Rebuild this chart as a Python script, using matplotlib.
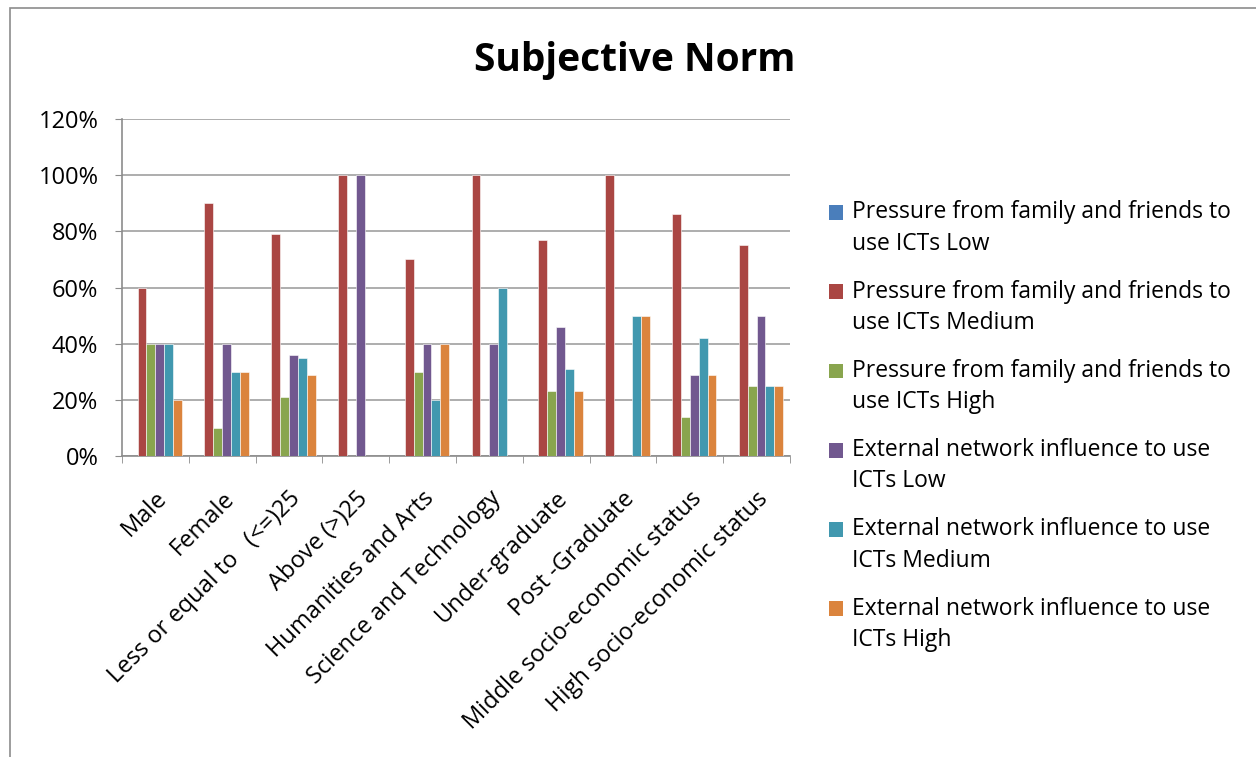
import numpy as np
import matplotlib
matplotlib.use('Agg')
import matplotlib.pyplot as plt
import matplotlib.transforms as mtransforms
from matplotlib.patches import Rectangle
from matplotlib.legend_handler import HandlerPatch

plt.rcParams['font.family'] = ['Open Sans', 'DejaVu Sans']

categories = ['Male', 'Female', 'Less or equal to   (<=)25', 'Above (>)25',
              'Humanities and Arts', 'Science and Technology', 'Under-graduate',
              'Post -Graduate', 'Middle socio-economic status', 'High socio-economic status']

series_names = ['Pressure from family and friends to\nuse ICTs Low',
                'Pressure from family and friends to\nuse ICTs Medium',
                'Pressure from family and friends to\nuse ICTs High',
                'External network influence to use\nICTs Low',
                'External network influence to use\nICTs Medium',
                'External network influence to use\nICTs High']

pff_low = [0, 0, 0, 0, 0, 0, 0, 0, 0, 0]
pff_medium = [60, 90, 79, 100, 70, 100, 77, 100, 86, 75]
pff_high = [40, 10, 21, 0, 30, 0, 23, 0, 14, 25]
ext_low = [40, 40, 36, 100, 40, 40, 46, 0, 29, 50]
ext_medium = [40, 30, 35, 0, 20, 60, 31, 50, 42, 25]
ext_high = [20, 30, 29, 0, 40, 0, 23, 50, 29, 25]

colors = ['#4A7EBB', '#AA4643', '#89A54E', '#71588F', '#4198AF', '#DB843D']


# legend square sits next to the first line of the label, like Excel does
class TopSquare(HandlerPatch):
    def create_artists(self, legend, orig_handle, xdescent, ydescent,
                       width, height, fontsize, trans):
        p = Rectangle((-xdescent, -ydescent + 0.72 * fontsize), width, height,
                      facecolor=orig_handle.get_facecolor(), edgecolor='none')
        p.set_transform(trans)
        return [p]


fig = plt.figure(figsize=(12.56, 7.57), dpi=100)
fig.patches.append(Rectangle((10 / 1256, -0.1), 1.2, 1 - 8 / 757 + 0.1,
                             transform=fig.transFigure, fill=False,
                             edgecolor='#8c8c8c', linewidth=1.2))
ax = fig.add_axes([0.0971, 0.3976, 0.5318, 0.4452])

x = np.arange(len(categories))
w = 1 / 7.5
all_series = [pff_low, pff_medium, pff_high, ext_low, ext_medium, ext_high]
for i, vals in enumerate(all_series):
    ax.bar(x + (i - 2.5) * w, vals, w, color=colors[i],
           edgecolor='white', linewidth=0.4, zorder=3)

ax.set_xlim(-0.5, len(categories) - 0.5)
ax.set_ylim(0, 120)
ax.set_yticks(range(0, 121, 20))
ax.set_yticklabels(['%d%%' % v for v in range(0, 121, 20)], fontsize=17)
ax.yaxis.grid(True, color='#a0a0a0', linewidth=1.2, zorder=0)
ax.set_xticks(x)
ax.set_xticklabels(categories, rotation=45, ha='right', rotation_mode='anchor', fontsize=17)
shift = mtransforms.ScaledTranslation(-4 / 100, 0, fig.dpi_scale_trans)
for lab in ax.get_xticklabels():
    lab.set_transform(lab.get_transform() + shift)
ax.set_xticks(np.arange(-0.5, len(categories), 1), minor=True)
ax.tick_params(axis='x', which='major', length=0, pad=22)
ax.tick_params(axis='x', which='minor', length=5, color='#8c8c8c')
ax.tick_params(axis='y', length=5, color='#8c8c8c', pad=12)
for s in ['top', 'right']:
    ax.spines[s].set_visible(False)
for s in ['left', 'bottom']:
    ax.spines[s].set_color('#8c8c8c')
    ax.spines[s].set_linewidth(1.2)

fig.text(0.505, 0.92, 'Subjective Norm', ha='center', va='center',
         fontsize=28, fontweight='bold')

proxies = [Rectangle((0, 0), 1, 1, facecolor=c) for c in colors]
leg = fig.legend(proxies, series_names, loc='center left',
                 bbox_to_anchor=(0.644, 0.437), frameon=False,
                 fontsize=16.5, handlelength=0.6, handleheight=0.6,
                 handletextpad=0.4, labelspacing=1.05,
                 handler_map={Rectangle: TopSquare()})
for t in leg.get_texts():
    t.set_linespacing(1.4)

fig.savefig('out.png', dpi=100)
